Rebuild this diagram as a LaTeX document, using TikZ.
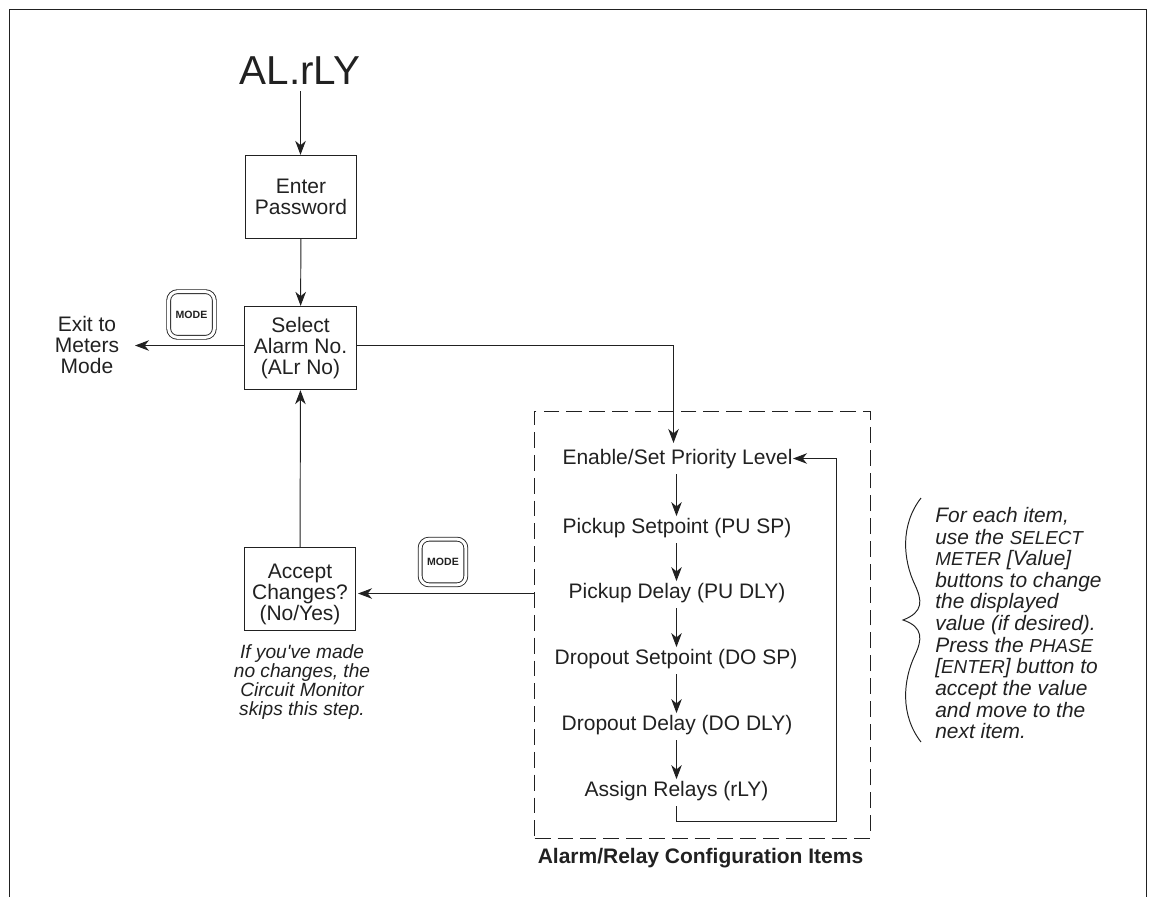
\documentclass[tikz,border=0pt]{standalone}
\usepackage{fontspec}
\setmainfont{Liberation Sans}
\usetikzlibrary{arrows.meta}
\definecolor{inkgray}{gray}{0.13}
\newcommand{\capword}[1]{{\fontsize{10.7}{12.3}\selectfont #1}}
\tikzset{
	every node/.style={inner sep=0pt, text=inkgray},
	flowbox/.style={draw=inkgray, line width=0.55pt, minimum width=63.6pt, minimum height=47.4pt, align=center, font=\fontsize{11.95}{12}\selectfont},
	item/.style={font=\fontsize{11.95}{12}\selectfont, inner ysep=3pt},
	modekey/.style={draw=inkgray, double, double distance=1.7pt, line width=0.5pt, rounded corners=5pt, minimum size=26pt, font=\fontsize{6}{6}\selectfont\bfseries},
	remark/.style={font=\fontsize{10.9}{10.8}\selectfont\itshape, align=center},
	flow/.style={draw=inkgray, line width=0.55pt, -{Stealth[length=8pt, width=6pt, inset=2.5pt]}},
	itemflow/.style={flow, shorten >=-2pt},
	plainline/.style={draw=inkgray, line width=0.55pt}
}
\begin{document}
\begin{tikzpicture}[x=0.02cm, y=-0.02cm]
	\useasboundingbox (0,0) rectangle (1156,897);
	
	% outer frame, open at the bottom
	\coordinate (frameA) at (9.5,897);
	\coordinate (frameB) at (9.5,9.5);
	\coordinate (frameC) at (1146.5,9.5);
	\coordinate (frameD) at (1146.5,897);
	\draw[plainline] (frameA) -- (frameB) -- (frameC) -- (frameD);
	
	\node[font=\fontsize{23}{26}\selectfont, inner ysep=3.5pt] (title) at (300,71) {AL.rLY};
	\node[flowbox] (password) at (301,197) {Enter\\Password};
	\node[flowbox] (select) at (300.5,348) {Select\\Alarm No.\\(ALr No)};
	\node[flowbox] (accept) at (300,589) {\rule{0pt}{14pt}Accept\\Changes?\\(No/Yes)};
	\node[align=center, font=\fontsize{11.95}{12}\selectfont] (exit) at (87,345) {Exit to\\Meters\\Mode};
	\node[modekey] (modeA) at (191.5,314.5) {MODE};
	\node[modekey] (modeB) at (443,562) {MODE};
	\node[remark] (skip) at (302,682) {If you\textquotesingle ve made\\no changes, the\\Circuit Monitor\\skips this step.};
	
	% dashed group with its items
	\node[draw=inkgray, dash pattern=on 9pt off 4pt, line width=0.5pt, minimum width=191pt, minimum height=243pt] (group) at (702.5,624.5) {};
	\node[font=\fontsize{11.95}{12}\selectfont\bfseries] (caption) at (700.5,858) {Alarm/Relay Configuration Items};
	\node[item] (enable) at (677.5,459) {Enable/Set Priority Level};
	\node[item] (pusp) at (677,528) {Pickup Setpoint (PU SP)};
	\node[item] (pudly) at (677,593) {Pickup Delay (PU DLY)};
	\node[item] (dosp) at (676,659) {Dropout Setpoint (DO SP)};
	\node[item] (dodly) at (677,725) {Dropout Delay (DO DLY)};
	\node[item] (assign) at (676.5,791) {Assign Relays (rLY)};
	
	\coordinate (spine) at (676.5,0);
	\coordinate (turnA) at (676.5,821.5);
	\coordinate (turnB) at (836.5,821.5);
	\coordinate (turnC) at (836.5,458.5);
	\coordinate (turnD) at (793,458.5);
	\coordinate (drop) at (673.5,345.5);
	\coordinate (back) at (534,593.5);
	\coordinate (backEnd) at (358,593.5);
	\coordinate (exitEnd) at (135,345.5);
	\coordinate (exitStart) at (244,345.5);
	\coordinate (selectOut) at (357,345.5);
	\coordinate (enableIn) at (673.5,443);
	
	\draw[flow] (title.south -| select.north) -- (select.north |- password.north);
	\draw[flow] (password) -- (select);
	\draw[flow] (accept) -- (select);
	\draw[flow] (exitStart) -- (exitEnd);
	\draw[flow] (selectOut) -- (drop) -- (enableIn);
	\draw[flow] (back) -- (backEnd);
	
	\draw[itemflow] (enable.south -| spine) -- (pusp.north -| spine);
	\draw[itemflow] (pusp.south -| spine) -- (pudly.north -| spine);
	\draw[itemflow] (pudly.south -| spine) -- (dosp.north -| spine);
	\draw[itemflow] (dosp.south -| spine) -- (dodly.north -| spine);
	\draw[itemflow] (dodly.south -| spine) -- (assign.north -| spine);
	\draw[flow] (assign.south -| spine) -- (turnA) -- (turnB) -- (turnC) -- (turnD);
	
	% brace and its note
	\draw[plainline] (921,498) .. controls (900,525) and (903,560) .. (915,585) .. controls (922,600) and (924,612) .. (903,620) .. controls (924,627) and (922,640) .. (915,655) .. controls (903,680) and (900,715) .. (921,742);
	\node[anchor=north west, align=left, font=\fontsize{11.9}{12.3}\selectfont\itshape] (note) at (935,507) {For each item,\\use the \capword{SELECT}\\\capword{METER} {[Value]}\\buttons to change\\the displayed\\value (if desired).\\Press the \capword{PHASE}\\{[\capword{ENTER}]} button to\\accept the value\\and move to the\\next item.};
\end{tikzpicture}
\end{document}
